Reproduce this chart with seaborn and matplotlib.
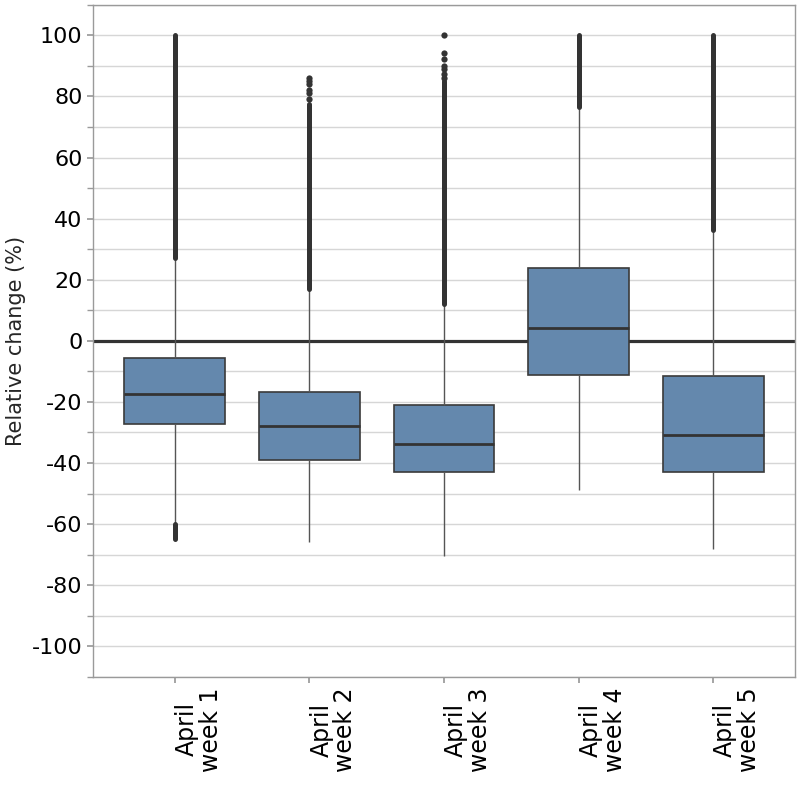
import numpy as np
import pandas as pd
import matplotlib
matplotlib.use("Agg")
import matplotlib.pyplot as plt
import seaborn as sns

# categories and box summaries
weeks = ["April\nweek 1", "April\nweek 2", "April\nweek 3", "April\nweek 4", "April\nweek 5"]
whisker_low = [-59.5, -66.0, -70.5, -49.0, -68.0]
q1 = [-27.3, -39.0, -42.9, -11.3, -43.0]
median = [-17.5, -28.0, -33.7, 4.3, -31.0]
q3 = [-5.7, -16.7, -21.0, 23.7, -11.5]
whisker_high = [26.5, 16.7, 11.8, 76.0, 35.7]

# dense runs of outliers (drawn as continuous columns of dots)
run_week = [0, 0, 1, 2, 3, 4]
run_start = [27.0, -60.0, 17.0, 12.0, 76.6, 36.3]
run_end = [100.0, -64.8, 77.5, 85.0, 100.0, 100.0]

# isolated outliers above the dense runs
sparse_week = ["April\nweek 2"] * 6 + ["April\nweek 3"] * 7
sparse_value = [86.0, 85.0, 84.0, 82.0, 81.0, 79.0,
                100.0, 94.3, 92.1, 90.0, 89.0, 87.5, 86.0]

box_df = pd.DataFrame({
    "week": np.repeat(weeks, 5),
    "value": np.column_stack([whisker_low, q1, median, q3, whisker_high]).ravel(),
})
sparse_df = pd.DataFrame({"week": sparse_week, "value": sparse_value})

sns.set_theme(style="whitegrid")
plt.rcParams.update({
    "font.family": ["DejaVu Sans"],
    "font.size": 15,
    "axes.unicode_minus": False,
    "axes.edgecolor": "#9a9a9a",
    "axes.linewidth": 1.0,
    "grid.color": "#d6d6d6",
    "grid.linewidth": 1.0,
    "xtick.bottom": True,
    "ytick.left": True,
    "xtick.color": "#9a9a9a",
    "ytick.color": "#9a9a9a",
    "xtick.labelcolor": "black",
    "ytick.labelcolor": "black",
    "xtick.major.size": 4,
    "ytick.major.size": 4,
    "ytick.minor.size": 4,
    "xtick.labelsize": 17,
    "ytick.labelsize": 16,
})

fig = plt.figure(figsize=(8, 8), dpi=100)
ax = fig.add_axes([0.116, 0.154, 0.878, 0.84])

ax.axhline(0, color="#333333", linewidth=2.3, zorder=1)

sns.boxplot(data=box_df, x="week", y="value", order=weeks, ax=ax,
            width=0.75, color="#6488ad", saturation=1, linecolor="#3a3a3a",
            linewidth=1.2, showfliers=False, showcaps=False,
            whiskerprops={"color": "#555555", "linewidth": 1.0},
            medianprops={"color": "#333333", "linewidth": 2.0},
            boxprops={"zorder": 2})

ax.vlines(run_week, run_start, run_end, colors="#333333", linewidth=3.6,
          capstyle="round", zorder=3)
sns.stripplot(data=sparse_df, x="week", y="value", order=weeks, ax=ax,
              jitter=False, color="#333333", size=4.5, linewidth=0, zorder=3)

ax.set_ylim(-110, 110)
ax.set_xlim(-0.61, 4.61)
ax.set_yticks(np.arange(-100, 101, 20))
ax.set_yticks(np.arange(-110, 111, 10), minor=True)
ax.grid(True, which="both", axis="y")
ax.grid(False, axis="x")
ax.set_axisbelow(True)
ax.set_xlabel("")
ax.set_ylabel("Relative change (%)", fontsize=15)
for lbl in ax.get_xticklabels():
    lbl.set_rotation(90)
    lbl.set_ha("left")
    lbl.set_multialignment("center")
    lbl.set_linespacing(1.0)

plt.savefig("out.png", dpi=100)
plt.close()
